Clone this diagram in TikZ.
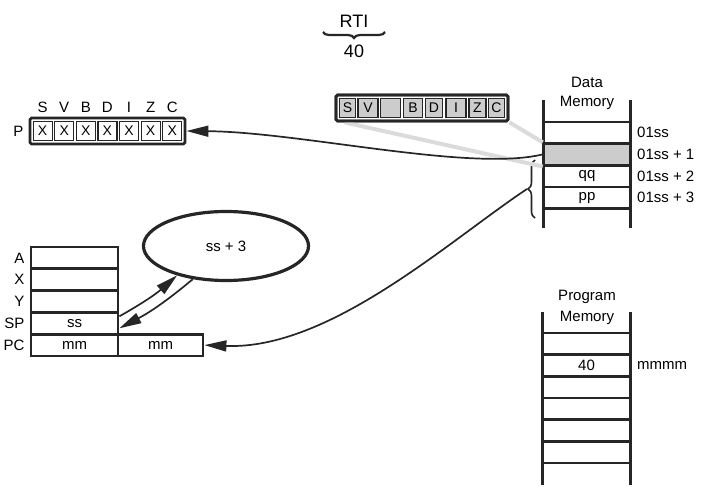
\documentclass[tikz,border=0pt]{standalone}
\usepackage{fontspec}
\setmainfont{Liberation Sans}
\usetikzlibrary{arrows.meta,decorations.pathreplacing,shapes.geometric}
\begin{document}
\begin{tikzpicture}[x=1pt,y=-1pt,
  font=\fontsize{15}{17}\selectfont,
  regcell/.style={draw=black!85, line width=2.8pt, minimum width=87pt, minimum height=21.8pt, inner sep=0pt},
  memcell/.style={draw=black!85, line width=2.6pt, minimum width=86pt, minimum height=21.6pt, inner sep=0pt},
  pcell/.style={draw=black!85, line width=1.2pt, fill=white, minimum width=19pt, minimum height=19pt, inner sep=0pt, font=\fontsize{14}{16}\selectfont},
  fcell/.style={draw=black!85, line width=1.1pt, fill=gray!40, minimum height=19pt, inner sep=0pt, font=\fontsize{14}{16}\selectfont},
  frame/.style={draw=black!85, line width=2.8pt, rounded corners=1.5pt, inner sep=0pt},
  arr/.style={draw=black!85, line width=1.7pt, -{Triangle[length=22pt,width=11pt]}},
  memline/.style={draw=black!85, line width=3pt},
  proj/.style={draw=gray!28, line width=4pt},
  lbl/.style={anchor=east, inner sep=0pt},
]
\useasboundingbox (0,0) rectangle (705,487);

% ---- title
\node (rti) at (354,21) {\fontsize{18}{20}\selectfont RTI};
\draw[black!85, line width=2.2pt, decorate, decoration={brace, amplitude=6pt, mirror}] (323,32) -- (385,32);
\node (op) at (354,51) {\fontsize{18}{20}\selectfont 40};

% ---- data memory
\node[minimum width=86pt, minimum height=128pt, inner sep=0pt] (dm) at (587,164) {};
\node[memcell] (dm1) at (587,132.8) {};
\node[memcell, fill=gray!40] (dm2) at (587,154.4) {};
\node[memcell] (dm3) at (587,176.0) {qq};
\node[memcell] (dm4) at (587,197.6) {pp};
\draw[memline] (dm.north west) -- (dm.south west);
\draw[memline] (dm.north east) -- (dm.south east);
\node (dmt1) at (587,82) {Data};
\node (dmt2) at (587,103) {Memory};
\node[anchor=west, inner sep=0pt] (a0) at (637,132.8) {01ss};
\node[anchor=west, inner sep=0pt] (a1) at (637,154.4) {01ss + 1};
\node[anchor=west, inner sep=0pt] (a2) at (637,176.0) {01ss + 2};
\node[anchor=west, inner sep=0pt] (a3) at (637,197.6) {01ss + 3};
\coordinate (brtop) at (535,160);
\coordinate (brbot) at (535,218);
\draw[black!85, line width=1.6pt, decorate, decoration={brace, amplitude=7pt}] (brbot) -- (brtop);
\coordinate (bt) at (527,189);

% ---- flag box (expanded data)
\node[frame, minimum width=172pt, minimum height=26pt] (fbox) at (422,108) {};
\draw[proj] ([xshift=10pt]fbox.south west) -- (dm2.south west);
\draw[proj] (fbox.south east) -- (dm2.north west);
\node[frame, minimum width=172pt, minimum height=26pt] (fbox2) at (422,108) {};
\node[fcell, minimum width=16pt] (f1) at (347.5,108) {S};
\node[fcell, minimum width=20pt] (f2) at (368,108) {V};
\node[fcell, minimum width=20pt] (f3) at (390.5,108) {};
\node[fcell, minimum width=19pt] (f4) at (413,108) {B};
\node[fcell, minimum width=17pt] (f5) at (434,108) {D};
\node[fcell, minimum width=20pt] (f6) at (456,108) {I};
\node[fcell, minimum width=17pt] (f7) at (477.5,108) {Z};
\node[fcell, minimum width=16pt] (f8) at (496.5,108) {C};

% ---- P register
\node[frame, minimum width=155pt, minimum height=26pt] (pbox) at (107.5,131) {};
\foreach \i/\l in {1/S,2/V,3/B,4/D,5/I,6/Z,7/C}{
  \node[pcell] (p\i) at ({31.8+21.6*(\i-0.5)},131) {X};
  \node (pl\i) at ([yshift=24pt]p\i.center) {\l};
}
\node[anchor=east, inner sep=0pt] (plab) at ([xshift=-5pt]pbox.west) {P};

% ---- registers
\node[regcell] (rA) at (74.5,257.9) {};
\node[regcell] (rX) at (74.5,279.7) {};
\node[regcell] (rY) at (74.5,301.5) {};
\node[regcell] (rSP) at (74.5,323.3) {ss};
\node[regcell] (rPC) at (74.5,345.1) {mm};
\node[regcell, minimum width=85pt] (rPC2) at (160.5,345.1) {mm};
\node[lbl] (lA) at ([xshift=-5pt]rA.west) {A};
\node[lbl] (lX) at ([xshift=-5pt]rX.west) {X};
\node[lbl] (lY) at ([xshift=-5pt]rY.west) {Y};
\node[lbl] (lSP) at ([xshift=-5pt]rSP.west) {SP};
\node[lbl] (lPC) at ([xshift=-5pt]rPC.west) {PC};

% ---- stack pointer ellipse
\node[ellipse, draw=black!85, line width=3.2pt, minimum width=165pt, minimum height=69pt, inner sep=0pt] (ell) at (226,246) {ss + 3};
\draw[arr] ([yshift=7pt]rSP.east) to[bend right=6] (ell.211);
\draw[arr] (ell.225) to[bend left=6] ([yshift=-5pt]rSP.east);

% ---- program memory
\node[minimum width=87pt, minimum height=173pt, inner sep=0pt] (pm) at (586.5,398.5) {};
\node[memcell, minimum width=87pt] (pm1) at (586.5,343.8) {};
\node[memcell, minimum width=87pt] (pm2) at (586.5,365.5) {40};
\node[memcell, minimum width=87pt] (pm3) at (586.5,387.2) {};
\node[memcell, minimum width=87pt] (pm4) at (586.5,408.8) {};
\node[memcell, minimum width=87pt] (pm5) at (586.5,430.5) {};
\node[memcell, minimum width=87pt] (pm6) at (586.5,452.2) {};
\draw[memline] (pm.north west) -- (pm.south west);
\draw[memline] (pm.north east) -- (pm.south east);
\node (pmt1) at (587,297) {Program};
\node (pmt2) at (587,318) {Memory};
\node[anchor=west, inner sep=0pt] (pma) at (637,365.5) {mmmm};

% ---- connectors
\draw[arr] (dm2.west) .. controls (470,172) and (300,132) .. (pbox.east);
\draw[arr] (bt) .. controls (450,240) and (330,350) .. (rPC2.east);
\end{tikzpicture}
\end{document}
